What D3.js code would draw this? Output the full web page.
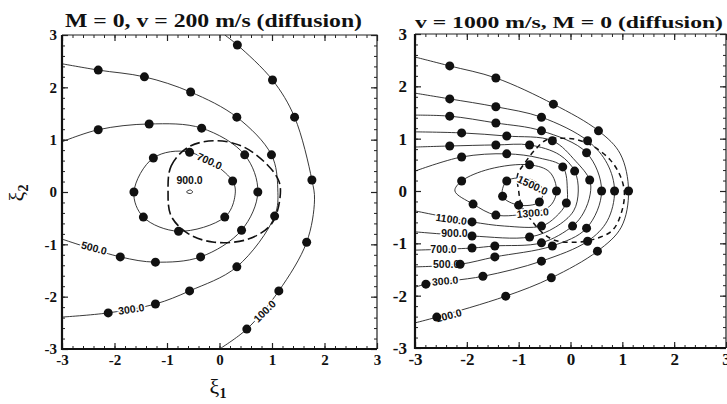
<!DOCTYPE html>
<html>
<head>
<script src="https://d3js.org/d3.v7.min.js"></script>
<style>
  body { margin: 0; background: #fff; }
  svg text { fill: #111; }
  .clabel { font-family: 'Liberation Sans', Arial, sans-serif; font-weight: bold; font-size: 10.5px;
            stroke: #fff; stroke-width: 3px; paint-order: stroke; }
</style>
</head>
<body>
<div id="chart"></div>
<script>
////////////////////////////////////////////////////////////
//////////////////////// Data //////////////////////////////
////////////////////////////////////////////////////////////
var tickValues = [-3, -2, -1, 0, 1, 2, 3];
var tickLabels = ["-3", "-2", "-1", "0", "1", "2", "3"];

// contour points [xi1, xi2, dot]  -- left panel (v = 200 m/s)
var left100 = [[0.1,3.0,0],[0.34,2.81,1],[1.01,2.14,1],[1.43,1.43,1],[1.76,0.23,1],[1.81,-0.15,0],
               [1.66,-0.96,1],[1.13,-1.89,1],[0.52,-2.62,1],[0.0,-3.0,0]];
var left300 = [[-3,2.45,0],[-2.31,2.33,1],[-1.43,2.2,1],[-0.55,1.91,1],[0.33,1.43,1],[0.99,0.71,1],
               [1.11,0.06,0],[1.05,-0.46,1],[0.33,-1.43,1],[-0.57,-1.89,1],[-1.22,-2.14,1],
               [-2.12,-2.31,1],[-3,-2.39,0]];
var left500 = [[-3,0.96,0],[-2.31,1.19,1],[-1.34,1.3,1],[-0.34,1.22,1],[0.48,0.71,1],[0.73,0,1],
               [0.42,-0.73,1],[-0.36,-1.24,1],[-1.22,-1.34,1],[-1.89,-1.24,1],[-3,-0.9,0]];
var left700 = [[-1.63,0,1],[-1.26,0.65,1],[-0.57,0.76,1],[0.25,0.21,1],[0.29,-0.1,0],[0.1,-0.48,1],
               [-0.78,-0.75,1],[-1.45,-0.48,1]];
var left900 = [[-0.63,0.0,0],[-0.56,0.04,0],[-0.51,0.0,0],[-0.56,-0.03,0]];
var leftDashed = [[-0.98,0],[-0.92,0.5],[-0.59,0.86],[-0.1,0.98],[0.42,0.88],[0.86,0.57],[1.13,0.21],
                  [1.15,-0.13],[0.99,-0.61],[0.55,-0.9],[-0.1,-0.96],[-0.59,-0.8],[-0.92,-0.46]];
var leftLabels = [["100.0",0.86,-2.28,-45],["300.0",-1.68,-2.24,-8],["500.0",-2.39,-1.07,15],
                  ["700.0",-0.19,0.59,25],["900.0",-0.57,0.23,0]];

// right panel (v = 1000 m/s)
var right100 = [[-3,2.56,0],[-2.33,2.39,1],[-1.44,2.16,1],[-0.33,1.66,1],[0.54,1.15,1],[0.96,0.71,0],
                [1.12,0,1],[0.98,-0.69,0],[0.52,-1.15,1],[-0.37,-1.66,1],[-1.25,-2.01,1],
                [-2.58,-2.41,1],[-3,-2.52,0]];
var right300 = [[-3,1.87,0],[-2.33,1.76,1],[-1.44,1.61,1],[-0.56,1.41,1],[0.33,0.96,1],[0.71,0.52,0],
                [0.85,0,1],[0.71,-0.57,0],[0.33,-0.96,1],[-0.56,-1.34,1],[-1.69,-1.63,1],
                [-2.79,-1.78,1],[-3,-1.84,0]];
var right500 = [[-3,1.45,0],[-2.33,1.43,1],[-1.44,1.3,1],[-0.56,1.15,1],[0.31,0.73,1],[0.6,0,1],
                [0.31,-0.71,1],[-0.35,-1.05,1],[-1.46,-1.26,1],[-2.13,-1.4,1],[-3,-1.45,0]];
var right700 = [[-3,1.13,0],[-2.1,1.11,1],[-1.23,1.05,1],[-0.35,0.96,1],[0.1,0.57,0],[0.37,0.21,1],
                [0.38,-0.06,0],[0.25,-0.42,0],[0.04,-0.67,1],[-0.56,-0.99,1],[-1.46,-1.05,1],
                [-1.9,-1.09,1],[-3,-1.13,0]];
var right900 = [[-3,0.84,0],[-2.33,0.86,1],[-1.44,0.88,1],[-0.79,0.88,1],[-0.21,0.69,0],[0.08,0.38,1],
                [0.15,0,0],[0.06,-0.38,0],[-0.29,-0.69,0],[-0.79,-0.88,1],[-1.9,-0.86,1],[-3,-0.78,0]];
var right1100 = [[-3,0.38,0],[-2.1,0.65,1],[-1.23,0.71,1],[-0.6,0.63,0],[-0.15,0.46,1],[-0.06,0,0],
                 [-0.08,-0.23,1],[-0.29,-0.5,0],[-0.56,-0.67,1],[-1.27,-0.67,0],[-1.9,-0.59,1],[-3,-0.38,0]];
var right1300 = [[-2.23,0,0],[-2.1,0.19,1],[-1.56,0.42,0],[-0.79,0.5,1],[-0.4,0.36,0],[-0.27,0,1],
                 [-0.4,-0.29,0],[-0.79,-0.42,0],[-1.44,-0.46,1],[-1.88,-0.25,1]];
var right1500 = [[-1.23,0.19,1],[-1.31,-0.1,1],[-1.0,-0.27,1],[-0.6,-0.21,1],[-0.54,0.04,0],[-0.79,0.23,0]];
var rightDashed = [[-1.02,0.31],[-0.87,0.55],[-0.69,0.78],[-0.46,0.98],[-0.17,1.01],[0.13,0.98],
                   [0.46,0.84],[0.77,0.59],[0.96,0.29],[1.04,-0.04],[0.98,-0.42],[0.81,-0.75],
                   [0.46,-0.92],[0.08,-0.98],[-0.31,-0.94],[-0.56,-0.78],[-0.77,-0.54],[-0.94,-0.29],[-1.0,0]];
var rightLabels = [["100.0",-2.35,-2.38,-15],["300.0",-2.42,-1.72,-5],["500.0",-2.4,-1.4,0],
                   ["700.0",-2.45,-1.11,0],["900.0",-2.24,-0.8,0],["1100.0",-2.3,-0.54,8],
                   ["1300.0",-0.73,-0.42,-5],["1500.0",-0.73,0.11,25]];

////////////////////////////////////////////////////////////
//////////////////////// Set-Up ////////////////////////////
////////////////////////////////////////////////////////////
var serif = "'Liberation Serif', 'Times New Roman', Times, serif";

var svg = d3.select("#chart").append("svg")
    .attr("width", 727)
    .attr("height", 404);

function drawPanel(cfg) {
  var x = d3.scaleLinear().domain([-3, 3]).range(cfg.xRange);
  var y = d3.scaleLinear().domain([-3, 3]).range(cfg.yRange);
  var g = svg.append("g");

  g.append("clipPath").attr("id", "clip-" + cfg.name)
    .append("rect")
    .attr("x", x(-3)).attr("y", y(3))
    .attr("width", x(3) - x(-3)).attr("height", y(-3) - y(3));

  var plot = g.append("g").attr("clip-path", "url(#clip-" + cfg.name + ")");

  var line = d3.line().x(d => x(d[0])).y(d => y(d[1])).curve(d3.curveCatmullRom.alpha(0.5));
  var lineClosed = d3.line().x(d => x(d[0])).y(d => y(d[1])).curve(d3.curveCatmullRomClosed.alpha(0.5));

  plot.selectAll("path.open").data(cfg.open).enter().append("path")
    .attr("class", "open")
    .attr("d", line)
    .attr("fill", "none").attr("stroke", "#222").attr("stroke-width", 0.9);

  plot.selectAll("path.closed").data(cfg.closed).enter().append("path")
    .attr("class", "closed")
    .attr("d", lineClosed)
    .attr("fill", "none").attr("stroke", "#222").attr("stroke-width", 0.9);

  plot.append("path")
    .attr("d", lineClosed(cfg.dashed))
    .attr("fill", "none").attr("stroke", "#111")
    .attr("stroke-width", cfg.dashWidth)
    .attr("stroke-dasharray", cfg.dash);

  //contour labels
  plot.selectAll("text.clabel").data(cfg.labels).enter().append("text")
    .attr("class", "clabel")
    .attr("text-anchor", "middle")
    .attr("dy", "0.35em")
    .attr("transform", d => "translate(" + x(d[1]) + "," + y(d[2]) + ")rotate(" + d[3] + ")")
    .text(d => d[0]);

  //dots
  var dots = [];
  cfg.open.concat(cfg.closed).forEach(c => c.forEach(p => { if (p[2]) dots.push(p); }));
  plot.selectAll("circle").data(dots).enter().append("circle")
    .attr("cx", d => x(d[0])).attr("cy", d => y(d[1]))
    .attr("r", 4.5).attr("fill", "#111");

  //axes
  var minor = d3.range(-30, 31, 2).map(v => v / 10);
  var fmt = v => tickLabels[tickValues.indexOf(v)];
  var axes = [
    [d3.axisBottom(x), "translate(0," + y(-3) + ")", true, cfg.padX],
    [d3.axisTop(x), "translate(0," + y(3) + ")", false, 0],
    [d3.axisLeft(y), "translate(" + x(-3) + ",0)", true, cfg.padY],
    [d3.axisRight(y), "translate(" + x(3) + ",0)", false, 0]
  ];
  axes.forEach(function(a) {
    var ax = g.append("g").attr("transform", a[1]);
    ax.call(a[0].tickValues(minor).tickSize(-3).tickFormat(""));
    ax.select(".domain").remove();
    var ax2 = g.append("g").attr("transform", a[1]);
    ax2.call(a[0].tickValues(tickValues).tickSize(-6).tickPadding(a[3])
      .tickFormat(a[2] ? fmt : ""));
    ax2.select(".domain").remove();
    ax2.selectAll(".tick text")
      .style("font-family", serif)
      .style("font-weight", "bold")
      .style("font-size", cfg.tickFont + "px")
      .attr("fill", "#111");
    ax.selectAll("line").attr("stroke", "#222");
    ax2.selectAll("line").attr("stroke", "#222").attr("stroke-width", 1.2);
  });

  //frame
  g.append("path")
    .attr("d", "M" + x(-3) + "," + y(3) + "H" + x(3) + "V" + y(-3))
    .attr("fill", "none").attr("stroke", "#222").attr("stroke-width", 1.2);
  g.append("path")
    .attr("d", "M" + x(-3) + "," + y(3) + "V" + y(-3) + "H" + x(3))
    .attr("fill", "none").attr("stroke", "#111").attr("stroke-width", 2.2);

  //title
  svg.append("text")
    .attr("x", cfg.titleX).attr("y", cfg.titleY)
    .attr("textLength", cfg.titleW).attr("lengthAdjust", "spacingAndGlyphs")
    .style("font-family", serif)
    .style("font-weight", "bold")
    .style("font-size", cfg.titleFont + "px")
    .text(cfg.title);
  return {x: x, y: y};
}

drawPanel({
  name: "left", xRange: [62, 377], yRange: [349, 35],
  open: [left100, left300, left500], closed: [left700, left900],
  dashed: leftDashed, dash: "10,4", dashWidth: 1.6, labels: leftLabels,
  tickFont: 15, padX: 5, padY: 5,
  title: "M = 0, v = 200 m/s (diffusion)", titleX: 65, titleY: 27, titleW: 297, titleFont: 19
});

drawPanel({
  name: "right", xRange: [415, 726], yRange: [348, 34],
  open: [right100, right300, right500, right700, right900, right1100], closed: [right1300, right1500],
  dashed: rightDashed, dash: "5,4", dashWidth: 1.5, labels: rightLabels,
  tickFont: 17, padX: 5, padY: 8,
  title: "v = 1000 m/s, M = 0 (diffusion)", titleX: 415, titleY: 28, titleW: 308, titleFont: 17
});

//axis titles (left panel only)
svg.append("text")
  .attr("x", 218).attr("y", 394).attr("text-anchor", "middle")
  .style("font-family", serif).style("font-size", "22px")
  .html("ξ<tspan dy='4' style='font-size:14px;font-weight:bold'>1</tspan>");
svg.append("text")
  .attr("transform", "translate(24,193)rotate(-90)").attr("text-anchor", "middle")
  .style("font-family", serif).style("font-size", "22px")
  .html("ξ<tspan dy='4' style='font-size:14px;font-weight:bold'>2</tspan>");
</script>
</body>
</html>
